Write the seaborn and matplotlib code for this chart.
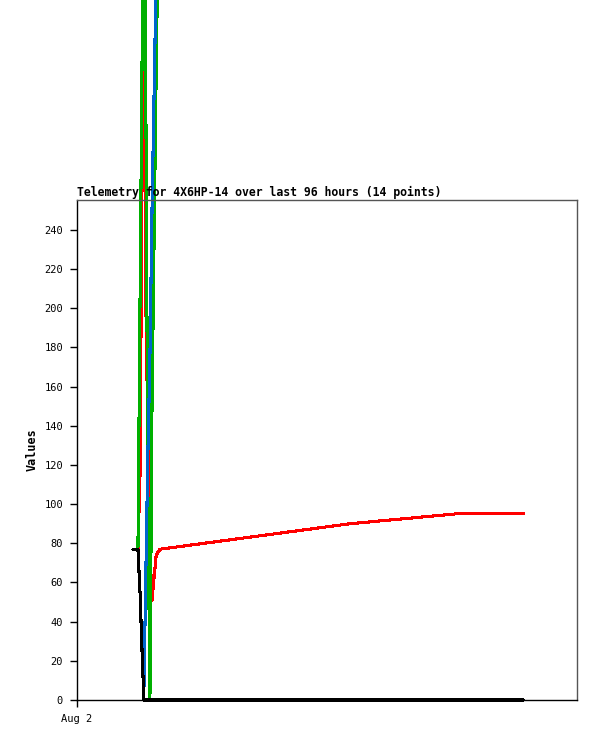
import pandas as pd
import numpy as np
import matplotlib.pyplot as plt
import seaborn as sns

# Hours since Aug 2 00:00 for each of the 14 telemetry samples
HOURS = [10.75, 11.7, 12.1, 12.5, 12.85, 13.25, 13.6, 14.0, 14.4, 15.2, 15.95, 52.4, 72.6, 85.8]

# Channel readings (values above ~360 run off the top of the image)
CH1 = [77, 77, 115, 270, 420, 197, 137, 77, 51, 74, 77, 90, 95, 95]        # red
CH2 = [77, 77, 204, 330, 450, 290, 110, 0, 150, 320, 460, 900, 950, 980]    # green
CH3 = [77, 77, 55, 24, 6, 70, 125, 175, 250, 370, 500, 900, 950, 980]       # blue
CH4 = [77, 77, 55, 24, 0, 0, 0, 0, 0, 0, 0, 0, 0, 0]                        # black

TITLE = "Telemetry for 4X6HP-14 over last 96 hours (14 points)"
Y_TICKS = list(range(0, 241, 20))
X_TICKS = [0]
X_TICK_LABELS = ["Aug 2"]

COLORS = {"ch1": "#ff0000", "ch2": "#00b000", "ch3": "#0066cc", "ch4": "#000000"}


def build_frame():
    """Stack the channels into one long table for seaborn."""
    parts = []
    for name, vals in [("ch1", CH1), ("ch2", CH2), ("ch3", CH3), ("ch4", CH4)]:
        parts.append(pd.DataFrame({"hours": HOURS, "value": vals, "channel": name}))
    return pd.concat(parts, ignore_index=True)


sns.set_style("white")
plt.rcParams['font.family'] = ['DejaVu Sans Mono', 'DejaVu Sans']
plt.rcParams['text.color'] = 'black'
plt.rcParams['axes.labelcolor'] = 'black'
plt.rcParams['xtick.color'] = 'black'
plt.rcParams['ytick.color'] = 'black'

fig = plt.figure(figsize=(5.97, 7.41), dpi=100)
ax = fig.add_axes([77 / 597, 1 - 700 / 741, 500 / 597, 500 / 741])

df = build_frame()
sns.lineplot(data=df, x="hours", y="value", hue="channel",
             hue_order=["ch1", "ch2", "ch3", "ch4"], palette=COLORS,
             estimator=None, sort=False, linewidth=1.5, legend=False,
             clip_on=False, antialiased=False, ax=ax)

ax.set_xlim(0, 96)
ax.set_ylim(0, 255.3)
ax.set_yticks(Y_TICKS)
ax.set_yticklabels([str(t) for t in Y_TICKS], fontsize=7.5)
ax.set_xticks(X_TICKS)
ax.set_xticklabels(X_TICK_LABELS, fontsize=7.5)
ax.tick_params(bottom=True, left=True, direction='out', length=5, width=1,
               color='black', labelcolor='black', pad=5)
ax.set_xlabel("")
ax.set_ylabel("Values", fontsize=8.5, fontweight='bold', labelpad=4, color='black')

for side in ['left', 'bottom']:
    ax.spines[side].set_color('black')
    ax.spines[side].set_linewidth(1)
for side in ['top', 'right']:
    ax.spines[side].set_color('#555555')
    ax.spines[side].set_linewidth(1)
    ax.spines[side].set_visible(True)

ax.text(0, 1.002, TITLE, transform=ax.transAxes, fontsize=8.3, fontweight='bold',
        ha='left', va='bottom', color='black')

fig.savefig("out.png", dpi=100, facecolor='white')
